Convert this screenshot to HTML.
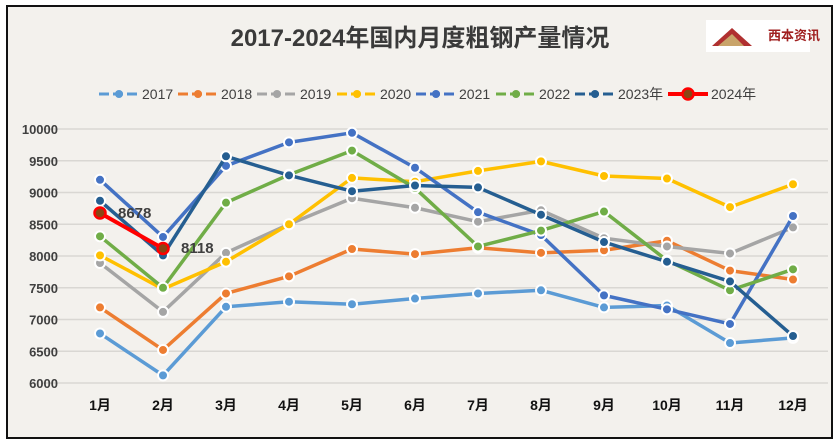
<!DOCTYPE html>
<html><head><meta charset="utf-8"><style>
body{margin:0;width:835px;height:444px;background:#fff;overflow:hidden}
svg{display:block}
text{font-family:"Liberation Sans","Noto Sans CJK SC",sans-serif}
</style></head><body>
<svg id="c" width="835" height="444" xmlns="http://www.w3.org/2000/svg">
<rect x="7" y="6" width="825" height="432" fill="#f3f1ed" stroke="#111" stroke-width="2"/>
<text x="420" y="46" text-anchor="middle" font-size="24" font-weight="bold" fill="#3a3a3a" font-family="Liberation Sans Narrow,Liberation Sans,Noto Sans CJK SC,sans-serif">2017-2024年国内月度粗钢产量情况</text>
<rect x="706" y="20" width="104" height="32" fill="#fff"/>
<polygon points="712,46 732,28 752,46" fill="#b03030"/>
<polygon points="718,46 732,34 744,46" fill="#c9a46a"/>
<text x="768" y="40" font-size="13" font-weight="bold" fill="#a02020">西本资讯</text>
<g id="g"></g>
</svg>
<script>
var g=document.getElementById('g'),s='';
function Y(v){return 129+(10000-v)*0.0635}
function X(i){return 100+i*63}
for(var v=6000;v<=10000;v+=500){var y=Y(v);s+='<line x1="43" x2="828" y1="'+y+'" y2="'+y+'" stroke="#d9d7d3" stroke-width="1.5"/>';s+='<text x="58" y="'+(y+5)+'" text-anchor="end" font-size="13" font-weight="bold" fill="#404040">'+v+'</text>';}
for(var i=0;i<12;i++)s+='<text x="'+X(i)+'" y="410" text-anchor="middle" font-size="14" font-weight="bold" fill="#111">'+(i+1)+'月</text>';
var D=[
['#5b9bd5',[6780,6120,7200,7280,7240,7330,7410,7460,7190,7220,6630,6710],'2017'],
['#ed7d31',[7190,6520,7410,7680,8110,8030,8130,8050,8090,8240,7770,7630],'2018'],
['#a5a5a5',[7890,7120,8050,8500,8910,8760,8540,8720,8280,8150,8040,8450],'2019'],
['#ffc000',[8010,7480,7910,8500,9230,9170,9340,9490,9260,9220,8770,9130],'2020'],
['#4472c4',[9200,8300,9420,9790,9940,9390,8690,8330,7380,7160,6930,8630],'2021'],
['#70ad47',[8310,7500,8840,9280,9660,9070,8150,8400,8700,7930,7460,7790],'2022'],
['#255e91',[8870,8010,9570,9270,9020,9110,9080,8650,8220,7910,7600,6740],'2023年']];
D.forEach(function(d){var p=d[1].map(function(v,i){return X(i)+','+Y(v)}).join(' ');
s+='<polyline points="'+p+'" fill="none" stroke="'+d[0]+'" stroke-width="3.5" stroke-linejoin="round"/>';
d[1].forEach(function(v,i){s+='<circle cx="'+X(i)+'" cy="'+Y(v)+'" r="5" fill="'+d[0]+'" stroke="#fff" stroke-width="2"/>'});});
s+='<polyline points="'+X(0)+','+Y(8678)+' '+X(1)+','+Y(8118)+'" fill="none" stroke="#ff0000" stroke-width="4"/>';
[8678,8118].forEach(function(v,i){s+='<circle cx="'+X(i)+'" cy="'+Y(v)+'" r="5.5" fill="#8b4513" stroke="#ff0000" stroke-width="2.5"/>'});
s+='<text x="118" y="218" font-size="15" font-weight="bold" fill="#404040">8678</text>';
s+='<text x="181" y="253" font-size="15" font-weight="bold" fill="#404040">8118</text>';
var L=D.concat([['#ff0000',0,'2024年']]);var lx=[99,178,257,337,416,496,575,668];
L.forEach(function(d,i){var x=lx[i],y=94;
if(i<7){s+='<line x1="'+x+'" x2="'+(x+40)+'" y1="'+y+'" y2="'+y+'" stroke="'+d[0]+'" stroke-width="3" stroke-dasharray="10,4"/><circle cx="'+(x+20)+'" cy="'+y+'" r="4" fill="'+d[0]+'"/>';}
else{s+='<line x1="'+x+'" x2="'+(x+40)+'" y1="'+y+'" y2="'+y+'" stroke="#f00" stroke-width="4"/><circle cx="'+(x+20)+'" cy="'+y+'" r="5.5" fill="#8b4513" stroke="#f00" stroke-width="2.5"/>';}
s+='<text x="'+(x+43)+'" y="'+(y+5)+'" font-size="14" fill="#404040">'+d[2]+'</text>';});
g.innerHTML=s;
</script>
</body></html>
